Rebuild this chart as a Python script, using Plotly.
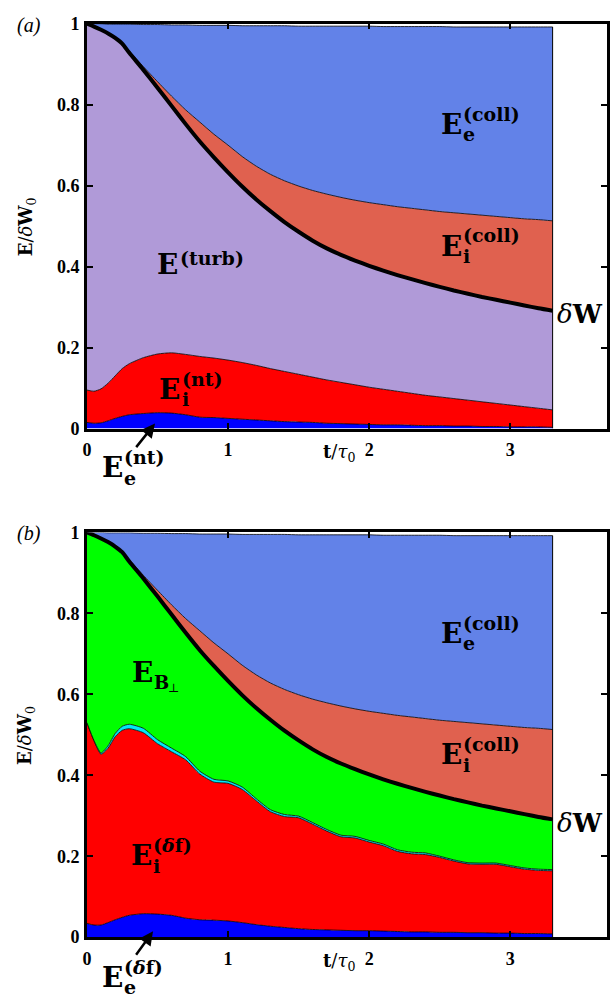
import numpy as np
import plotly.graph_objects as go

W, H = 610, 1005

# time in units of tau_0
t = [0, 0.05, 0.1, 0.15, 0.2, 0.25, 0.3, 0.4, 0.5, 0.6, 0.7, 0.8, 0.9, 1.0,
     1.1, 1.2, 1.3, 1.4, 1.5, 1.6, 1.7, 1.8, 1.9, 2.0, 2.1, 2.2, 2.3, 2.4,
     2.5, 2.6, 2.7, 2.8, 2.9, 3.0, 3.1, 3.2, 3.3]

# collisional (dissipated) energy, shared by both panels
E_i_coll = [0, 0, 0, 0, 0, 0.002, 0.005, 0.008, 0.015, 0.024, 0.035, 0.048,
            0.057, 0.067, 0.074, 0.082, 0.091, 0.102, 0.113, 0.124, 0.134,
            0.142, 0.149, 0.156, 0.163, 0.169, 0.175, 0.181, 0.186, 0.192,
            0.197, 0.202, 0.206, 0.210, 0.214, 0.219, 0.222]
E_e_coll = [0, 0.007, 0.015, 0.023, 0.034, 0.046, 0.066, 0.104, 0.141, 0.176,
            0.210, 0.239, 0.269, 0.296, 0.323, 0.347, 0.367, 0.383, 0.395,
            0.406, 0.415, 0.423, 0.430, 0.436, 0.440, 0.445, 0.449, 0.453,
            0.457, 0.459, 0.462, 0.465, 0.468, 0.471, 0.474, 0.476, 0.479]

# panel (a): non-thermal and turbulent energy
E_e_nt = [0.015, 0.013, 0.014, 0.019, 0.025, 0.030, 0.034, 0.037, 0.039,
          0.038, 0.034, 0.028, 0.027, 0.025, 0.023, 0.021, 0.019, 0.017,
          0.016, 0.015, 0.013, 0.012, 0.011, 0.010, 0.009, 0.009, 0.008,
          0.007, 0.007, 0.006, 0.006, 0.005, 0.005, 0.004, 0.004, 0.004, 0.003]
E_i_nt = [0.080, 0.079, 0.084, 0.093, 0.105, 0.118, 0.126, 0.138, 0.145,
          0.149, 0.149, 0.150, 0.147, 0.144, 0.140, 0.135, 0.129, 0.124,
          0.118, 0.112, 0.107, 0.102, 0.097, 0.092, 0.088, 0.083, 0.079,
          0.075, 0.071, 0.068, 0.064, 0.061, 0.057, 0.054, 0.050, 0.046, 0.043]
E_turb = [0.905, 0.901, 0.887, 0.864, 0.835, 0.803, 0.768, 0.711, 0.658,
          0.610, 0.569, 0.531, 0.496, 0.464, 0.435, 0.410, 0.389, 0.369,
          0.352, 0.337, 0.325, 0.315, 0.307, 0.300, 0.293, 0.287, 0.282,
          0.277, 0.272, 0.267, 0.263, 0.259, 0.256, 0.253, 0.250, 0.247, 0.245]

# panel (b): perturbed distribution and field energy
E_e_df = [0.034, 0.030, 0.030, 0.036, 0.043, 0.049, 0.054, 0.058, 0.057,
          0.054, 0.047, 0.043, 0.042, 0.040, 0.036, 0.031, 0.027, 0.024,
          0.021, 0.019, 0.018, 0.017, 0.016, 0.016, 0.015, 0.014, 0.013,
          0.013, 0.012, 0.012, 0.011, 0.011, 0.010, 0.010, 0.009, 0.009, 0.008]
E_i_df = [0.496, 0.455, 0.422, 0.431, 0.452, 0.462, 0.461, 0.447, 0.421,
          0.404, 0.391, 0.360, 0.341, 0.340, 0.329, 0.306, 0.283, 0.274,
          0.274, 0.260, 0.244, 0.231, 0.229, 0.219, 0.211, 0.198, 0.193,
          0.191, 0.185, 0.176, 0.170, 0.169, 0.170, 0.164, 0.159, 0.156, 0.156]
E_Bpar = [0, 0.001, 0.003, 0.006, 0.008, 0.010, 0.011, 0.011, 0.010, 0.009,
          0.008, 0.007, 0.007, 0.006, 0.006, 0.005, 0.005, 0.005, 0.004,
          0.004, 0.004, 0.004, 0.004, 0.004, 0.004, 0.004, 0.004, 0.004,
          0.003, 0.003, 0.003, 0.003, 0.003, 0.003, 0.003, 0.003, 0.003]
E_Bperp = [0.470, 0.507, 0.530, 0.503, 0.462, 0.430, 0.402, 0.370, 0.354,
           0.330, 0.306, 0.299, 0.280, 0.247, 0.227, 0.224, 0.222, 0.207,
           0.187, 0.181, 0.179, 0.177, 0.166, 0.163, 0.160, 0.163, 0.159,
           0.151, 0.150, 0.150, 0.149, 0.142, 0.135, 0.134, 0.133, 0.129, 0.124]

C_E_COLL = "#6282E8"
C_I_COLL = "#E0614F"
C_TURB = "#B09AD8"
C_RED = "#FF0000"
C_BLUE = "#0000FF"
C_GREEN = "#00FF00"
C_CYAN = "#00E8F8"

SERIF = "DejaVu Serif"
TICKFONT = "Liberation Serif"

fig = go.Figure()


def stack(xa, ya, group, series):
    for vals, color in series:
        fig.add_trace(go.Scatter(
            x=t, y=vals, xaxis=xa, yaxis=ya, stackgroup=group, mode="lines",
            fillcolor=color, line=dict(color="black", width=0.8, shape="spline",
                                       smoothing=0.6),
            hoverinfo="skip", showlegend=False))
    total = np.sum([np.array(v) for v, _ in series], axis=0)
    return total


def overlay(xa, ya, dw, total):
    # thick curve for delta W
    fig.add_trace(go.Scatter(
        x=t, y=dw, xaxis=xa, yaxis=ya, mode="lines",
        line=dict(color="black", width=4, shape="spline", smoothing=0.6),
        hoverinfo="skip", showlegend=False))
    # closing edge of the stacked region
    fig.add_trace(go.Scatter(
        x=[t[-1], t[-1]], y=[0, total[-1]], xaxis=xa, yaxis=ya, mode="lines",
        line=dict(color="black", width=1), hoverinfo="skip", showlegend=False))


tot_a = stack("x", "y", "a", [(E_e_nt, C_BLUE), (E_i_nt, C_RED), (E_turb, C_TURB),
                             (E_i_coll, C_I_COLL), (E_e_coll, C_E_COLL)])
dW_a = np.array(E_e_nt) + np.array(E_i_nt) + np.array(E_turb)
overlay("x", "y", dW_a, tot_a)

tot_b = stack("x2", "y2", "b", [(E_e_df, C_BLUE), (E_i_df, C_RED), (E_Bpar, C_CYAN),
                               (E_Bperp, C_GREEN), (E_i_coll, C_I_COLL),
                               (E_e_coll, C_E_COLL)])
dW_b = np.array(E_e_df) + np.array(E_i_df) + np.array(E_Bpar) + np.array(E_Bperp)
overlay("x2", "y2", dW_b, tot_b)

# ---- layout -------------------------------------------------------------
x_left = 83 / W
x_max = 527 / 143.0


def xaxis(anchor):
    return dict(domain=[x_left, 1.0], range=[0, x_max], anchor=anchor,
                tickvals=[0, 1, 2, 3], ticks="inside", ticklen=6, tickwidth=1.5,
                tickcolor="black", showline=True, linewidth=2.5, linecolor="black",
                mirror="ticks", showgrid=False, zeroline=False,
                ticklabelstandoff=3,
                tickfont=dict(family=TICKFONT, size=18, color="black", weight="bold"))


def yaxis(anchor, dom):
    return dict(domain=dom, range=[0, 1], anchor=anchor,
                tickvals=[0, 0.2, 0.4, 0.6, 0.8, 1],
                ticktext=["0", "0.2", "0.4", "0.6", "0.8", "1"],
                ticks="inside", ticklen=6, tickwidth=1.5, tickcolor="black",
                showline=True, linewidth=2.5, linecolor="black", mirror="ticks",
                showgrid=False, zeroline=False, ticklabelstandoff=1,
                tickfont=dict(family=TICKFONT, size=18, color="black", weight="bold"))


annotations = []


def P(xp, yp):
    return xp / W, 1 - yp / H


def text(xp, yp, s, size, anchor="center", weight="bold", angle=0, family=SERIF):
    x, y = P(xp, yp)
    annotations.append(dict(x=x, y=y, xref="paper", yref="paper", text=s,
                            showarrow=False, xanchor=anchor, yanchor="middle",
                            textangle=angle,
                            font=dict(family=family, size=size, color="black",
                                      weight=weight)))


def energy(xp, yp, sub=None, sup=None, sub_dy=10, sup_dy=-11):
    text(xp, yp, "E", 28)
    if sub:
        text(xp + 10, yp + sub_dy, sub, 19, anchor="left")
    if sup:
        text(xp + 10, yp + sup_dy, sup, 19, anchor="left")


def arrow(xp, yp, dx, dy):
    x, y = P(xp, yp)
    annotations.append(dict(x=x, y=y, xref="paper", yref="paper", text="",
                            showarrow=True, ax=dx, ay=dy, arrowhead=2,
                            arrowsize=1.1, arrowwidth=2.5, arrowcolor="black"))


for dy, tag in ((0, "a"), (519, "b")):
    text(24, 16 + dy - (1 if tag == "b" else 0), "<i>(" + tag + ")</i>", 20,
         weight="normal", family="Liberation Serif")
    text(22, 221 + dy, "<b>E</b>/<i>δ</i><b>W</b><sub>0</sub>", 18, angle=-90,
         weight="normal")
    text(338, 452 + dy, "<b>t</b>/<i>τ</i><sub>0</sub>", 18, weight="normal")
    text(583, 310 + dy, "<i>δ</i><b>W</b>", 26, weight="normal")
    energy(452, 117 + dy, sub="e", sup="(coll)")
    energy(452, 241 + dy, sub="i", sup="(coll)")

# panel (a) labels
energy(165, 260, sup="(turb)", sup_dy=-7)
energy(167, 387, sub="i", sup="(nt)")
energy(109, 467, sub="e", sup="(nt)")
arrow(152, 422, -20, 25)

# panel (b) labels
text(139, 676, "E", 28)
text(149, 686, "B", 18, anchor="left")
text(163, 692, "⊥", 12, anchor="left", weight="normal")
energy(138, 863, sub="i", sup="(<i>δ</i>f)")
energy(109, 987, sub="e", sup="(<i>δ</i>f)")
arrow(150, 940, -18, 25)

fig.update_layout(
    width=W, height=H, margin=dict(l=0, r=0, t=0, b=0),
    paper_bgcolor="white", plot_bgcolor="white", showlegend=False,
    xaxis=xaxis("y"), yaxis=yaxis("x", [1 - 427 / H, 1 - 14 / H]),
    xaxis2=xaxis("y2"), yaxis2=yaxis("x2", [1 - 946 / H, 1 - 533 / H]),
    annotations=annotations,
)

fig.write_html("out.html")
